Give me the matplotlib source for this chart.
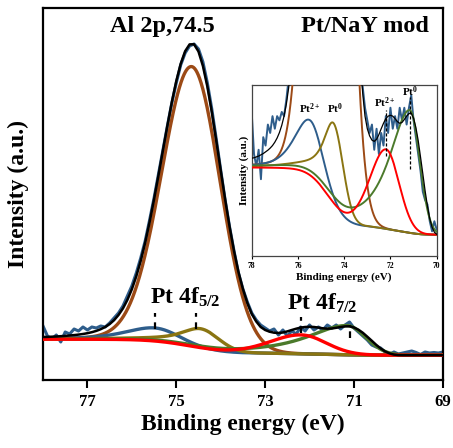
import numpy as np
import matplotlib
matplotlib.use("Agg")
import matplotlib.pyplot as plt

plt.rcParams["font.family"] = ["Liberation Serif", "DejaVu Serif"]
plt.rcParams["font.weight"] = "bold"
plt.rcParams["mathtext.fontset"] = "custom"
plt.rcParams["mathtext.rm"] = "Liberation Serif:bold"
plt.rcParams["mathtext.it"] = "Liberation Serif:bold"
plt.rcParams["mathtext.bf"] = "Liberation Serif:bold"

# Binding-energy grid of the measured spectrum (78 -> 69 eV, 0.1 eV step)
be = np.round(np.arange(78.0, 68.95, -0.1), 1)

# Measured Al 2p / Pt 4f spectrum (a.u.)
measured = [
    54, 44, 41, 45, 38, 48, 46, 51, 49, 53,
    50, 53, 52, 54, 53, 57, 62, 67, 74, 84,
    94, 107, 122, 139, 160, 182, 206, 230, 254, 277,
    297, 315, 327, 334, 336, 331, 318, 297, 271, 241,
    210, 180, 153, 129, 107, 91, 78, 67, 60, 55,
    52, 49, 51, 45, 50, 44, 49, 46, 53, 49,
    55, 50, 53, 50, 55, 52, 55, 51, 55, 58,
    52, 48, 44, 40, 35, 33, 32, 28, 25.6, 28,
    26, 27, 28, 29, 27.5, 25.5, 28, 27, 27.5, 27,
    28,
]

# Overall fit envelope (a.u.)
fit_envelope = [
    43.0, 43.1, 43.3, 43.5, 43.8, 44.1, 44.5, 44.9, 45.4, 46.0,
    46.8, 47.8, 49.1, 50.8, 53.0, 55.9, 59.8, 65.0, 71.6, 80.1,
    90.7, 103.7, 119.2, 137.3, 158.0, 180.6, 204.7, 229.6, 254.3, 277.7,
    298.8, 316.2, 328.8, 335.6, 335.7, 328.5, 314.0, 293.4, 267.9, 239.4,
    209.8, 180.6, 153.3, 128.9, 108.0, 91.0, 77.0, 66.0, 58.5, 53.0,
    50.0, 48.3, 47.3, 47.0, 47.5, 48.6, 50.0, 51.3, 52.4, 53.0,
    53.2, 53.0, 52.4, 51.7, 51.3, 51.5, 52.2, 53.0, 53.6, 53.7,
    52.5, 50.3, 47.2, 43.3, 39.3, 35.2, 31.6, 28.6, 26.6, 25.4,
    24.9, 24.8, 24.8, 24.8, 24.8, 24.8, 24.8, 24.8, 24.8, 24.8,
    24.8,
]

# Fit components: Al 2p, Pt2+ 4f5/2, Pt0 4f5/2, Pt2+ 4f7/2, Pt0 4f7/2
comp_center = [74.65, 75.47, 74.45, 72.19, 71.16]
comp_height = [280.0, 13.3, 19.5, 18.9, 29.2]
comp_hw_high = [0.80, 0.78, 0.55, 0.84, 1.05]   # half-width, high-BE side (eV)
comp_hw_low = [0.75, 0.62, 0.48, 0.66, 0.50]    # half-width, low-BE side (eV)
comp_lor_high = [0.05, 0.60, 0.90, 0.20, 0.80]  # Lorentzian fraction, high-BE side
comp_lor_low = [0.0, 0.0, 0.0, 0.0, 0.0]
comp_colors = ["#9C4A16", "#2E5D8B", "#8A7512", "#FF0000", "#4B7A2B"]
data_color = "#2E5D8B"

# Shirley background end points (a.u.)
bg_high_be = 40.7   # at 78 eV
bg_low_be = 24.8    # at 69 eV

energy = np.linspace(69.0, 78.0, 1801)


def profile(e, c, h, wh, wl, mh, ml):
    d = e - c
    w = np.where(d > 0, wh, wl)
    m = np.where(d > 0, mh, ml)
    x2 = (d / w) ** 2
    return h * ((1 - m) * np.exp(-np.log(2) * x2) + m / (1 + x2))


peaks = [profile(energy, *p) for p in zip(comp_center, comp_height, comp_hw_high,
                                          comp_hw_low, comp_lor_high, comp_lor_low)]
total = np.sum(peaks, axis=0)
cum = np.concatenate([[0], np.cumsum((total[1:] + total[:-1]) / 2 * np.diff(energy))])
background = bg_low_be + (bg_high_be - bg_low_be) * cum / cum[-1]

draw_order = [0, 1, 2, 4, 3]


def draw_spectrum(a, lw_data, lw_comp, lw_fit):
    a.plot(be, measured, color=data_color, lw=lw_data, zorder=2)
    for i in draw_order:
        a.plot(energy, background + peaks[i], color=comp_colors[i], lw=lw_comp, zorder=3)
    a.plot(be, fit_envelope, color="black", lw=lw_fit, zorder=5)


fig = plt.figure(figsize=(4.53, 4.48), dpi=100)
ax = fig.add_axes([0.0949, 0.1518, 0.8826, 0.8304])
draw_spectrum(ax, 2.2, 2.4, 1.8)

ax.set_xlim(78, 69)
ax.set_ylim(0, 372)
ax.set_xticks([77, 75, 73, 71, 69])
ax.set_yticks([])
ax.tick_params(axis="x", direction="out", length=6, width=1.5, labelsize=12, pad=4)
for s in ax.spines.values():
    s.set_linewidth(1.6)
ax.set_xlabel("Binding energy (eV)", fontsize=17, fontweight="bold", labelpad=3)
ax.set_ylabel("Intensity (a.u.)", fontsize=17, fontweight="bold")
ax.yaxis.set_label_coords(-0.035, 0.5)

ax.text(75.31, 353, "Al 2p,74.5", fontsize=17.5, ha="center", va="center")
ax.text(70.76, 353, "Pt/NaY mod", fontsize=17.5, ha="center", va="center")
ax.text(75.59, 76, r"Pt 4f$_{\rm 5/2}$", fontsize=17, ha="left", va="baseline")
ax.text(72.50, 70, r"Pt 4f$_{\rm 7/2}$", fontsize=17, ha="left", va="baseline")

mark_e = [75.48, 74.55, 72.2, 71.1]
mark_y0 = [51, 51, 47, 42]
mark_y1 = [67, 67, 63, 55]
for e, y0, y1 in zip(mark_e, mark_y0, mark_y1):
    ax.plot([e, e], [y0, y1], color="black", lw=1.6, ls=(0, (3, 2.5)), zorder=6)

# Inset: expanded view of the Pt 4f region
ins = fig.add_axes([0.5556, 0.4292, 0.4084, 0.381])
draw_spectrum(ins, 1.4, 1.4, 0.9)
ins.set_xlim(78, 70)
ins.set_ylim(19.8, 60.4)
ins.set_xticks([78, 76, 74, 72, 70])
ins.set_yticks([])
ins.tick_params(axis="x", direction="out", length=2.5, width=0.8, labelsize=5.5, pad=2)
for s in ins.spines.values():
    s.set_linewidth(0.9)
    s.set_color("#444444")
ins.set_xlabel("Binding energy (eV)", fontsize=8, fontweight="bold", labelpad=2)
ins.set_ylabel("Intensity (a.u.)", fontsize=8, fontweight="bold", labelpad=2)

ins_labels = [r"Pt$^{\rm 2+}$", r"Pt$^{\rm 0}$", r"Pt$^{\rm 2+}$", r"Pt$^{\rm 0}$"]
ins_label_e = [75.48, 74.40, 72.24, 71.16]
ins_label_y = [54.7, 54.7, 56.2, 58.9]
for t, e, y in zip(ins_labels, ins_label_e, ins_label_y):
    ins.text(e, y, t, fontsize=8, ha="center", va="center", zorder=7)

ins_mark_e = [72.2, 71.15]
ins_mark_y0 = [43.5, 40.4]
ins_mark_y1 = [54.5, 57.6]
for e, y0, y1 in zip(ins_mark_e, ins_mark_y0, ins_mark_y1):
    ins.plot([e, e], [y0, y1], color="black", lw=0.9, ls=(0, (2.5, 1.5)), zorder=6)

fig.savefig("out.png", dpi=100)
